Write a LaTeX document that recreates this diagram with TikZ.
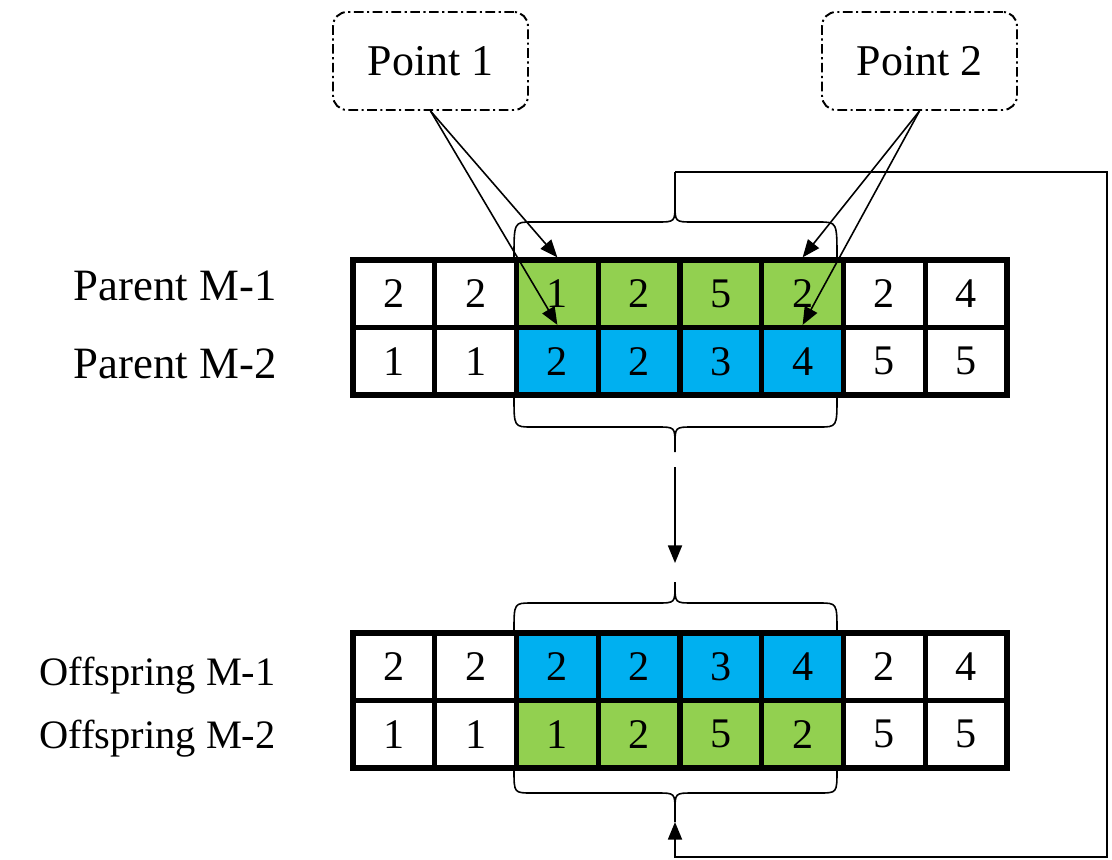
\documentclass[tikz,border=0pt]{standalone}
\usepackage{fontspec}
\setmainfont{Liberation Serif}
\usetikzlibrary{positioning, arrows.meta, calc}
\definecolor{genegreen}{RGB}{146,208,80}
\definecolor{geneblue}{RGB}{0,176,240}

\begin{document}
\begin{tikzpicture}[x=0.02cm, y=-0.02cm,
    gene/.style={draw, line width=3pt, minimum width=1.635cm, minimum height=1.35cm,
        inner sep=0pt, font=\fontsize{24}{27}\selectfont},
    rowlabel/.style={anchor=base east, inner sep=0pt, font=\fontsize{23}{27}\selectfont},
    cutpoint/.style={draw, line width=1.1pt, rounded corners=8pt,
        dash pattern=on 5.5pt off 2pt on 1.2pt off 2pt,
        minimum width=3.9cm, minimum height=1.96cm, font=\fontsize{25}{28}\selectfont},
    link/.style={line width=0.9pt},
    arrow/.style={link, -{Triangle[length=10pt,width=8pt]}}]

\useasboundingbox (0,0) rectangle (1112,859);

% Parents
\foreach \v/\c [count=\i] in {2/white,2/white,1/genegreen,2/genegreen,5/genegreen,2/genegreen,2/white,4/white}
    \node[gene, fill=\c] (p1-\i) at (353+81.75*\i-40.875, 293.75) {\v};
\foreach \v/\c [count=\i] in {1/white,1/white,2/geneblue,2/geneblue,3/geneblue,4/geneblue,5/white,5/white}
    \node[gene, fill=\c] (p2-\i) at (353+81.75*\i-40.875, 361.25) {\v};

% Offspring
\foreach \v/\c [count=\i] in {2/white,2/white,2/geneblue,2/geneblue,3/geneblue,4/geneblue,2/white,4/white}
    \node[gene, fill=\c] (o1-\i) at (353+81.75*\i-40.875, 666.75) {\v};
\foreach \v/\c [count=\i] in {1/white,1/white,1/genegreen,2/genegreen,5/genegreen,2/genegreen,5/white,5/white}
    \node[gene, fill=\c] (o2-\i) at (353+81.75*\i-40.875, 734.25) {\v};

% Row names
\node[rowlabel, font=\fontsize{25.5}{28}\selectfont] (lp1) at (277,300) {Parent M-1};
\node[rowlabel, font=\fontsize{25.5}{28}\selectfont] (lp2) at (277,378) {Parent M-2};
\node[rowlabel] (lo1) at (276,685) {Offspring M-1};
\node[rowlabel] (lo2) at (276,748) {Offspring M-2};

% Crossover points
\node[cutpoint] (pt1) at (430.5,61) {Point 1};
\node[cutpoint] (pt2) at (919.5,61) {Point 2};
\draw[arrow] (pt1.south) -- (p1-3.north);
\draw[arrow] (pt1.south) -- (p2-3.north);
\draw[arrow] (pt2.south) -- (p1-6.north);
\draw[arrow] (pt2.south) -- (p2-6.north);

% Braces round the swapped section
\draw[link] (514,258) .. controls (514,222) .. (532,222) -- (657,222)
    .. controls (675,222) .. (675,204) -- (675,172) coordinate (tipA);
\draw[link] (675,204) .. controls (675,222) .. (693,222) -- (819,222)
    .. controls (837,222) .. (837,258);

\draw[link] (514,397) .. controls (514,427) .. (532,427) -- (657,427)
    .. controls (675,427) .. (675,445) -- (675,452) coordinate (tipB);
\draw[link] (675,445) .. controls (675,427) .. (693,427) -- (819,427)
    .. controls (837,427) .. (837,397);

\draw[link] (514,631) .. controls (514,603) .. (532,603) -- (657,603)
    .. controls (675,603) .. (675,585) -- (675,582) coordinate (tipC);
\draw[link] (675,585) .. controls (675,603) .. (693,603) -- (819,603)
    .. controls (837,603) .. (837,631);

\draw[link] (514,770) .. controls (514,793) .. (532,793) -- (657,793)
    .. controls (675,793) .. (675,811) -- (675,822) coordinate (tipD);
\draw[link] (675,811) .. controls (675,793) .. (693,793) -- (819,793)
    .. controls (837,793) .. (837,770);

% Flow between the generations
\draw[arrow, shorten <=0.3cm, shorten >=0.38cm] (tipB) -- (tipC);
\coordinate (loopR) at (1107,857);
\draw[arrow] (tipA) -| (loopR) -| (tipD);
\end{tikzpicture}
\end{document}
